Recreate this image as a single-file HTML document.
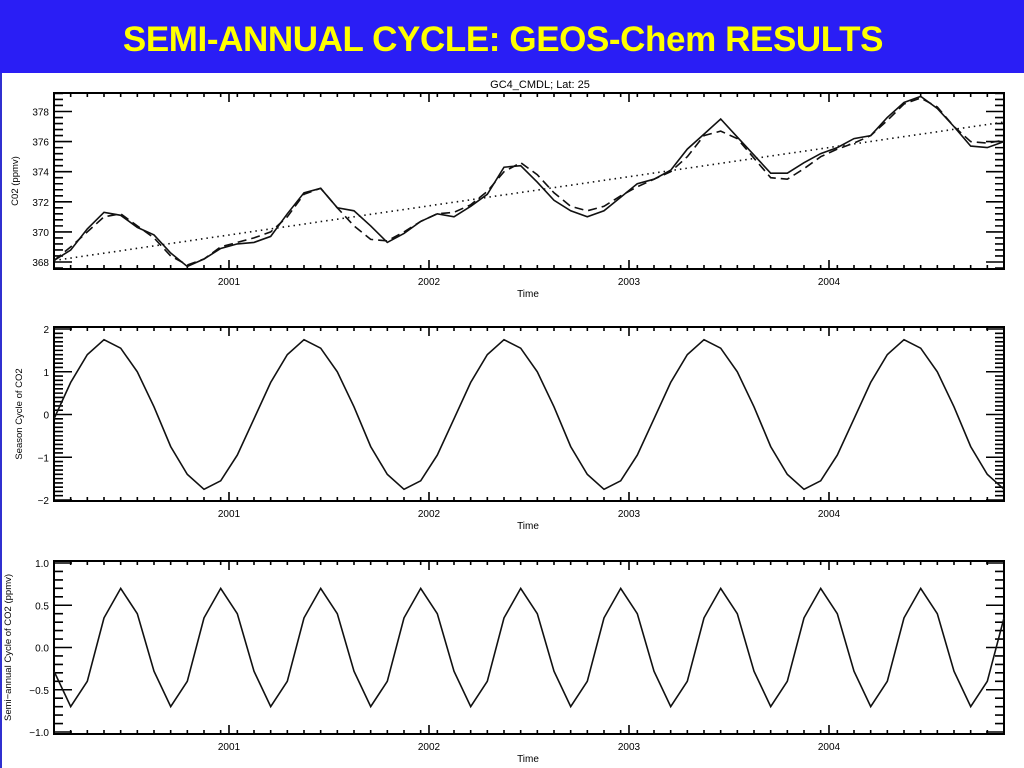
<!DOCTYPE html>
<html><head><meta charset="utf-8"><style>
body{margin:0;width:1024px;height:768px;overflow:hidden;background:#fff;font-family:"Liberation Sans",sans-serif}
#hdr{position:absolute;left:0;top:0;width:1024px;height:73px;background:#2a1ef5}
#hdr h1{margin:0;position:absolute;left:0;width:1006px;top:20px;text-align:center;color:#ffff00;font-size:35px;font-weight:bold;letter-spacing:-0.4px}
#lb{position:absolute;left:0;top:73px;width:2px;height:695px;background:#3030d0}
svg{position:absolute;left:0;top:0}
</style></head><body>
<div id="hdr"><h1>SEMI-ANNUAL CYCLE: GEOS-Chem RESULTS</h1></div>
<div id="lb"></div>
<svg id="s" width="1024" height="768"></svg>
<script>
const years=["2001","2002","2003","2004"];
const yearMonthIndex=[10.5,22.5,34.5,46.5];
const co2Model=[368.1,368.8,370.2,371.3,371.1,370.3,369.8,368.6,367.7,368.2,368.9,369.2,369.3,369.7,371.2,372.6,372.9,371.6,371.4,370.4,369.3,369.9,370.7,371.2,371.0,371.7,372.5,374.3,374.4,373.3,372.1,371.4,371.0,371.4,372.3,373.2,373.5,374.1,375.5,376.5,377.5,376.3,375.1,373.9,373.9,374.6,375.2,375.6,376.2,376.4,377.6,378.6,379.0,378.2,377.0,375.7,375.6,376.0];
const co2Fit=[368.1,369.0,370.0,371.0,371.2,370.4,369.6,368.4,367.8,368.2,369.0,369.3,369.6,370.0,371.0,372.5,372.9,371.6,370.4,369.5,369.4,370.0,370.7,371.2,371.3,371.8,372.7,374.0,374.6,373.8,372.6,371.7,371.4,371.7,372.4,373.0,373.5,374.0,375.0,376.4,376.7,376.2,374.9,373.6,373.5,374.2,375.0,375.5,375.9,376.4,377.4,378.5,378.9,378.3,377.0,376.0,375.9,376.1];
const trendStart=368.1, trendEnd=377.3;
const seasonPattern=[-0.1,0.75,1.4,1.75,1.55,1.0,0.18,-0.75,-1.4,-1.75,-1.55,-0.95];
const semiPattern=[-0.28,-0.7,-0.4,0.35,0.7,0.4];
const nMonths=58;
const p1Ticks=[368,370,372,374,376,378];
const p2Ticks=[-2,-1,0,1,2];
const p3Ticks=["-1.0","-0.5","0.0","0.5","1.0"];

const S=document.getElementById('s'),NS='http://www.w3.org/2000/svg';
function mk(t,a,p){const e=document.createElementNS(NS,t);for(const k in a)e.setAttribute(k,a[k]);(p||S).appendChild(e);return e;}
const X0=54,X1=1004,DX=(X1-X0)/(nMonths-1);
const xs=i=>X0+i*DX;
function panel(o){
  const g=mk('g',{});
  
  
  const ys=v=>o.y0+(v-o.v0)*(o.y1-o.y0)/(o.v1-o.v0);
  o.ys=ys;
  let d='';
  for(let v=o.lo;v<=o.hi+1e-9;v+=o.minor){const y=ys(v);d+=`M${X0},${y}h9M${X1},${y}h-9`;}
  for(const v of o.major){const y=ys(+v);d+=`M${X0},${y}h18M${X1},${y}h-18`;}
  for(let i=0;i<nMonths;i++){const x=xs(i);d+=`M${x},${o.top}v4M${x},${o.bot}v-4`;}
  for(const m of yearMonthIndex){const x=xs(m);d+=`M${x},${o.top}v9M${x},${o.bot}v-9`;}
  mk('path',{d,stroke:'#000','stroke-width':1.6,fill:'none'},g);
  mk('rect',{x:X0,y:o.top,width:X1-X0,height:o.bot-o.top,fill:'none',stroke:'#000','stroke-width':2},g);
  o.major.forEach(v=>{const t=mk('text',{x:X0-5,y:ys(+v)+4,'text-anchor':'end','font-size':10},g);t.textContent=String(v).replace('-','\u2212');
    });
  years.forEach((yl,k)=>{const t=mk('text',{x:xs(yearMonthIndex[k]),y:o.bot+16,'text-anchor':'middle','font-size':10},g);t.textContent=yl;
    });
  const tt=mk('text',{x:528,y:o.bot+28,'text-anchor':'middle','font-size':10},g);tt.textContent='Time';
  
  const yt=mk('text',{x:0,y:0,'text-anchor':'middle','font-size':9.5,transform:`translate(${o.ylx},${(o.top+o.bot)/2}) rotate(-90)`},g);yt.textContent=o.ylabel;
  
  return g;
}
function line(g,vals,ys,dash,name){
  const p=mk('path',{d:vals.map((v,i)=>(i?'L':'M')+xs(i).toFixed(1)+','+ys(v).toFixed(1)).join(''),fill:'none',stroke:'#111','stroke-width':1.6,'stroke-dasharray':dash||'none'},g);
  
}
const o1={name:'co2-panel',top:93,bot:269,v0:368,v1:378,y0:262,y1:111.5,lo:367.6,hi:379.2,minor:0.4,major:p1Ticks,ylabel:'C02 (ppmv)',ylx:18};
const g1=panel(o1);
line(g1,co2Model,o1.ys,null,'co2-model-line');
line(g1,co2Fit,o1.ys,'9,5','co2-fit-line');
line(g1,[trendStart,...Array(nMonths-2).fill(null).map((_,i)=>trendStart+(trendEnd-trendStart)*(i+1)/(nMonths-1)),trendEnd],o1.ys,'1.5,4','trend-line');
const ti=mk('text',{x:540,y:88,'text-anchor':'middle','font-size':11});ti.textContent='GC4_CMDL; Lat: 25';

const o2={name:'season-panel',top:327,bot:501,v0:0,v1:2,y0:414.5,y1:329,lo:-2,hi:2,minor:0.1,major:p2Ticks,ylabel:'Season Cycle of CO2',ylx:22};
const g2=panel(o2);
line(g2,Array.from({length:nMonths},(_,i)=>seasonPattern[i%12]),o2.ys,null,'season-line');
const o3={name:'semiannual-panel',top:561,bot:734,v0:0,v1:1,y0:647.5,y1:563,lo:-1,hi:1,minor:0.1,major:p3Ticks,ylabel:'Semi\u2212annual Cycle of CO2 (ppmv)',ylx:11};
const g3=panel(o3);
line(g3,Array.from({length:nMonths},(_,i)=>semiPattern[i%6]),o3.ys,null,'semiannual-line');
</script>
</body></html>
